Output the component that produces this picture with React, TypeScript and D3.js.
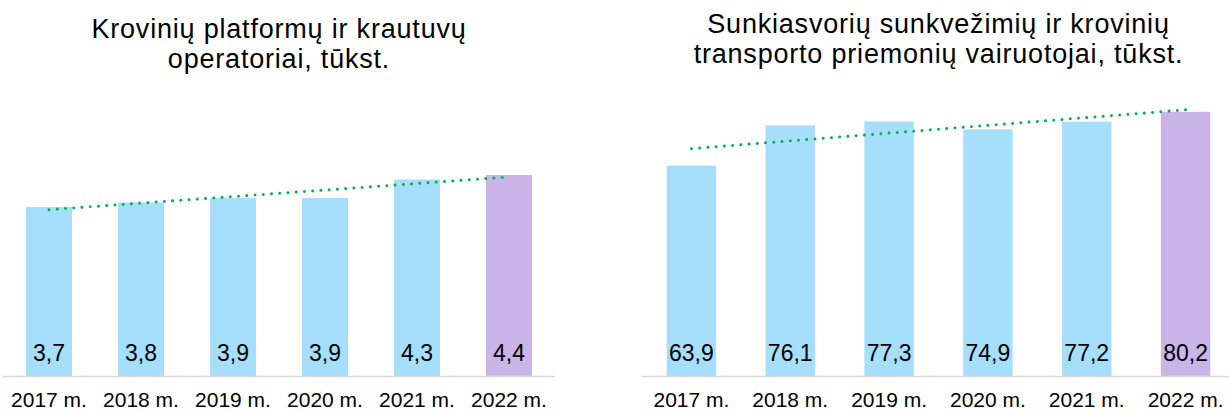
import React from 'react';
import { scaleBand, scaleLinear, line, formatLocale, mean } from 'd3';

// year labels shared by both panels
const years = ['2017 m.', '2018 m.', '2019 m.', '2020 m.', '2021 m.', '2022 m.'];

// loader operators, thousands
const operatorValues = [3.7, 3.8, 3.9, 3.9, 4.3, 4.4];
const operatorTitle = ['Krovinių platformų ir krautuvų', 'operatoriai, tūkst.'];

// heavy truck drivers, thousands
const driverValues = [63.9, 76.1, 77.3, 74.9, 77.2, 80.2];
const driverTitle = ['Sunkiasvorių sunkvežimių ir krovinių', 'transporto priemonių vairuotojai, tūkst.'];

const width = 1229;
const height = 412;
const font = '"Liberation Sans", Arial, sans-serif';
const blue = '#A6DEFD';
const purple = '#C9B5E8';
const green = '#00B050';
const baseline = 376.5;

// comma decimals like the original
const fmt = formatLocale({ decimal: ',', thousands: ' ', grouping: [3], currency: ['', ''] }).format('.1f');

// plain least squares, same as the excel linear trendline
const trend = (values) => {
  const xs = values.map((_, i) => i);
  const mx = mean(xs);
  const my = mean(values);
  let sxy = 0;
  let sxx = 0;
  xs.forEach((x, i) => {
    sxy += (x - mx) * (values[i] - my);
    sxx += (x - mx) * (x - mx);
  });
  const slope = sxy / sxx;
  return xs.map((x) => my + slope * (x - mx));
};

const Panel = ({ values, title, x0, x1, yMax, yTop, titleY }) => {
  const xScale = scaleBand().domain(years).range([x0, x1]).padding(0.5).paddingOuter(0.25);
  const yScale = scaleLinear().domain([0, yMax]).range([baseline, yTop]);
  const fit = trend(values);
  const trendPath = line()
    .x((d, i) => xScale(years[i]) + xScale.bandwidth() / 2)
    .y((d) => yScale(d))(fit);
  const cx = (x0 + x1) / 2;

  return (
    <g>
      {title.map((t, i) => (
        <text
          key={t}
          x={cx}
          y={titleY + i * 30}
          textAnchor="middle"
          fontSize={27}
          letterSpacing={0.8}
          fontFamily={font}
          fill="#000"
        >
          {t}
        </text>
      ))}
      {values.map((v, i) => (
        <rect
          key={years[i]}
          x={xScale(years[i])}
          y={yScale(v)}
          width={xScale.bandwidth()}
          height={baseline - yScale(v)}
          fill={i === values.length - 1 ? purple : blue}
        />
      ))}
      <line x1={x0} x2={Math.min(x1, width)} y1={baseline} y2={baseline} stroke="#D9D9D9" strokeWidth={1.5} />
      <path
        d={trendPath}
        fill="none"
        stroke={green}
        strokeWidth={3}
        strokeLinecap="round"
        strokeDasharray="0.01 8.25"
      />
      {values.map((v, i) => (
        <text
          key={'v' + i}
          x={xScale(years[i]) + xScale.bandwidth() / 2}
          y={360.5}
          textAnchor="middle"
          fontSize={23}
          fontFamily={font}
          fill="#000"
        >
          {fmt(v)}
        </text>
      ))}
      {years.map((y) => (
        <text
          key={y}
          x={xScale(y) + xScale.bandwidth() / 2}
          y={407}
          textAnchor="middle"
          fontSize={21}
          fontFamily={font}
          fill="#000"
        >
          {y}
        </text>
      ))}
    </g>
  );
};

const App = () => (
  <svg
    width={width}
    height={height}
    style={{ position: 'absolute', left: 0, top: 0, background: '#fff' }}
  >
    <Panel values={operatorValues} title={operatorTitle} x0={3} x1={555} yMax={5} yTop={147.5} titleY={38.3} />
    <Panel values={driverValues} title={driverTitle} x0={642} x1={1235} yMax={90} yTop={79.5} titleY={33.3} />
  </svg>
);

export default App;
